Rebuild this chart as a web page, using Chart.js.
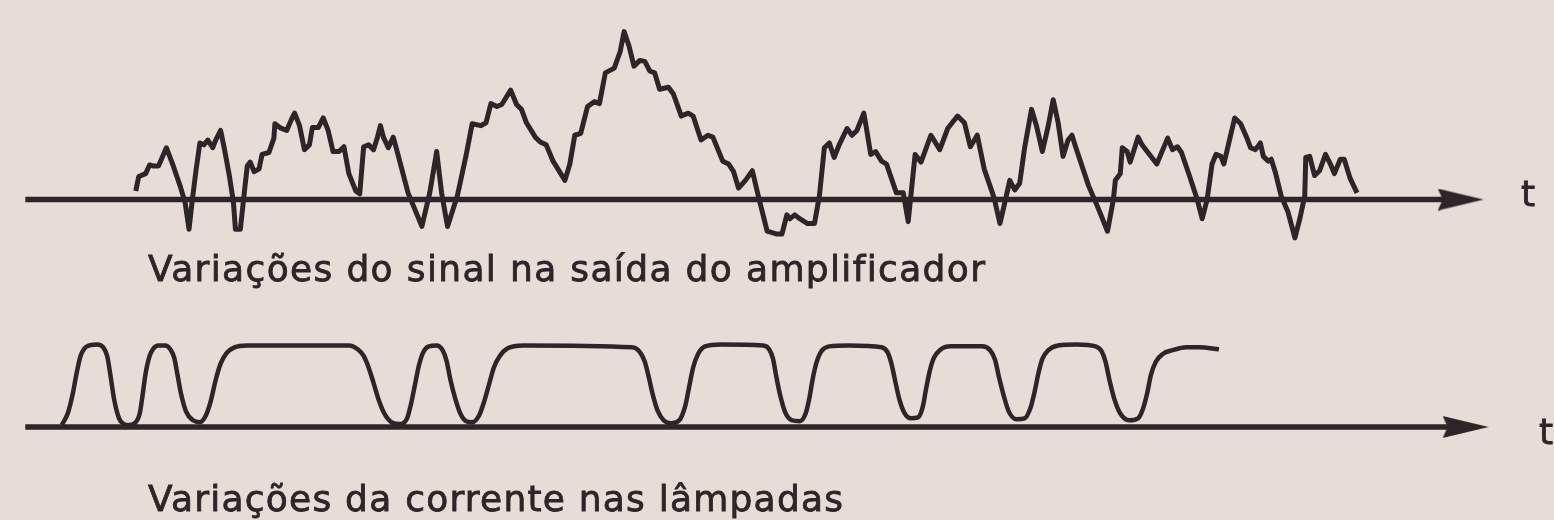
<!DOCTYPE html>
<html>
<head>
<meta charset="utf-8">
<script src="https://cdn.jsdelivr.net/npm/chart.js@4.4.1/dist/chart.umd.min.js"></script>
<style>
  html, body { margin: 0; padding: 0; background: #e8ddd6; }
  #wrap { position: relative; width: 1554px; height: 520px; overflow: hidden; background: #e8ddd6; }
  #plot { position: absolute; left: 0; top: 0; }
  .cap {
    position: absolute; white-space: nowrap;
    font-family: "DejaVu Sans", sans-serif; font-size: 36px; line-height: 36px;
    color: #2d2528; -webkit-text-stroke: 0.8px #2d2528;
  }
</style>
</head>
<body>
<div id="wrap">
  <canvas id="plot" width="1554" height="520"></canvas>
  <div class="cap" id="capSig" style="left:148px; top:251px;"></div>
  <div class="cap" id="capCur" style="left:148px; top:481px;"></div>
  <div class="cap" style="left:1521px; top:176px;">t</div>
  <div class="cap" style="left:1539px; top:414px;">t</div>
</div>
<script>
// amplifier output (time in tenths of a division, amplitude in arbitrary units)
var sigT = [12.7,13.0,13.7,14.1,14.5,15.0,15.3,15.8,16.5,17.2,17.7,18.1,18.4,18.8,19.2,19.6,20.0,20.5,20.8,21.3,
  21.7,22.2,22.6,22.8,23.3,23.7,24.0,24.3,24.7,25.2,25.5,26.2,26.7,26.8,27.3,28.0,28.5,28.8,29.3,29.8,
  30.3,30.6,31.2,31.7,32.2,32.7,33.3,33.8,34.3,35.0,35.4,35.8,36.3,36.8,37.2,37.5,37.8,38.3,38.8,39.2,
  40.3,41.7,42.5,43.2,43.7,44.3,45.3,46.2,46.8,47.7,48.2,48.7,49.3,49.8,50.7,51.3,51.8,52.3,53.2,53.7,
  54.3,55.0,56.2,56.7,57.2,57.8,58.5,59.2,59.7,60.3,61.2,61.8,62.2,62.7,63.2,63.8,64.3,64.8,65.3,65.8,
  66.7,67.2,68.0,68.7,69.2,70.0,70.7,71.2,72.2,72.8,73.3,73.8,74.5,75.2,75.8,76.7,77.7,78.2,78.7,79.0,
  79.5,80.0,80.8,81.5,82.0,82.5,83.0,83.5,84.0,84.8,85.3,85.8,86.5,86.8,87.2,87.7,88.3,88.8,89.8,90.5,
  91.0,91.7,92.3,93.3,94.2,95.0,96.0,96.7,97.3,98.0,98.7,99.7,100.3,100.8,101.3,101.8,102.3,102.8,103.5,104.0,
  104.6,105.2,105.7,106.2,106.7,107.2,107.6,108.0,109.3,110.3,111.2,111.8,112.0,112.5,112.7,113.2,113.5,114.3,114.7,116.2,
  117.3,117.8,118.3,118.7,119.5,120.3,120.8,121.3,121.8,122.2,122.7,123.0,123.5,124.1,124.7,125.3,125.7,126.2,126.7,127.0,
  127.5,127.8,128.2,128.8,129.5,130.2,130.7,131.2,131.3,131.7,132.2,132.7,133.3,133.8,134.2,134.8,135.2,135.8,136.5];
var sigV = [0.9,2.4,2.7,3.6,3.5,3.5,4.2,5.4,3.5,1.4,-0.3,-3.1,-0.3,3.0,5.9,5.7,6.2,5.4,6.2,7.2,
  5.2,2.4,-0.3,-3.1,-3.1,0.7,3.5,3.9,2.9,3.2,4.7,4.9,6.4,7.9,7.5,7.2,8.4,9.0,7.7,5.2,
  5.7,7.5,7.5,8.5,7.2,5.0,5.0,5.5,2.7,0.9,0.6,5.5,5.7,5.2,6.5,7.7,6.5,5.4,6.5,5.0,
  0.7,-2.8,0.7,5.0,0.7,-2.8,0.4,4.7,7.9,7.7,8.0,10.0,9.7,9.9,11.4,9.9,9.4,8.0,6.5,6.0,
  5.7,4.0,2.0,3.7,6.7,6.9,9.7,10.2,10.0,13.2,13.7,15.4,17.5,16.0,13.9,14.5,14.4,13.4,13.2,11.5,
  11.7,11.0,8.7,9.0,8.7,6.2,6.7,6.5,4.0,3.7,2.9,1.2,2.0,3.0,0.4,-3.3,-3.6,-3.6,-1.6,-2.0,
  -1.6,-2.0,-2.5,-2.5,0.4,5.4,5.9,4.4,5.7,7.4,6.7,7.2,9.0,7.2,4.7,5.0,4.0,3.7,0.7,0.7,
  -2.3,4.7,3.9,6.7,5.2,7.4,8.7,8.0,5.5,6.7,3.2,0.2,-2.5,-0.3,2.0,1.0,1.7,5.4,9.4,7.7,
  5.0,7.7,10.4,8.0,4.5,6.2,6.7,5.4,1.4,-1.0,-3.3,0.0,2.0,2.7,5.4,5.0,3.9,6.5,5.7,3.7,
  6.4,5.2,5.5,4.9,2.5,0.0,-2.0,0.0,3.7,4.7,4.5,3.7,5.9,8.5,7.9,6.5,5.4,5.2,5.9,4.5,
  4.0,4.2,2.9,0.4,-1.3,-4.0,-2.0,0.4,4.4,4.5,2.5,3.0,4.7,3.7,2.7,4.2,4.2,2.2,0.7];

// lamp current, same time base
var curT = [5.2,5.8,6.3,6.7,7.1,7.5,8.0,8.8,9.4,9.8,10.1,10.5,11.0,11.5,12.0,
  12.6,13.1,13.4,13.7,14.1,14.5,15.0,15.7,16.2,16.6,16.9,17.3,17.8,18.5,19.2,
  19.8,20.3,20.8,21.3,21.9,22.7,24.0,34.3,35.2,35.8,36.3,36.8,37.3,37.9,38.6,39.5,
  40.2,40.6,41.0,41.4,41.8,42.4,43.2,43.8,44.2,44.6,45.1,45.6,46.2,46.8,
  47.5,48.0,48.5,49.0,49.6,50.4,52.0,63.0,63.8,64.3,64.7,65.1,65.6,66.2,67.0,
  67.8,68.4,68.8,69.2,69.7,70.4,72.0,76.3,76.9,77.3,77.6,78.0,78.5,79.2,80.0,
  80.6,81.0,81.3,81.7,82.2,83.0,85.0,88.3,88.9,89.3,89.7,90.1,90.6,91.3,92.0,
  92.5,92.8,93.2,93.6,94.2,95.3,98.5,99.3,99.8,100.2,100.7,101.2,102.0,102.8,
  103.4,103.8,104.2,104.6,105.2,106.2,108.1,110.0,110.6,111.0,111.4,111.9,112.5,113.4,114.3,
  114.8,115.2,115.6,116.1,116.8,117.8,119.2,120.5,122.5];
var curV = [0.2,1.4,3.4,5.6,7.4,8.2,8.5,8.6,8.3,7.4,5.6,2.9,0.9,0.3,0.2,
  0.4,1.4,3.4,5.6,7.4,8.2,8.5,8.5,8.1,7.2,5.6,3.4,1.6,0.7,0.5,
  1.2,2.7,4.9,6.6,7.7,8.3,8.5,8.5,8.1,7.4,6.2,4.6,2.9,1.4,0.5,0.3,
  0.9,2.4,4.4,6.4,7.7,8.4,8.5,8.0,6.9,4.9,2.9,1.4,0.6,0.5,
  1.2,2.6,4.4,6.2,7.4,8.2,8.5,8.3,7.8,6.8,5.2,3.4,1.7,0.7,0.4,
  0.7,2.2,4.2,6.2,7.6,8.4,8.6,8.5,8.1,7.1,5.4,3.4,1.6,0.7,0.6,
  1.4,3.1,4.9,6.7,7.9,8.4,8.5,8.3,7.8,6.6,4.7,2.9,1.5,0.9,1.0,
  2.2,3.9,5.9,7.2,8.0,8.4,8.4,8.0,7.0,5.2,3.2,1.6,0.8,0.9,
  2.0,3.6,5.6,7.1,8.0,8.5,8.6,8.4,7.9,6.8,4.9,2.9,1.4,0.7,0.9,
  1.9,3.4,5.4,6.8,7.6,8.0,8.3,8.3,8.1];

// time axes: start and arrow position
var sigAxisT = [1.5, 147.0];
var curAxisT = [1.5, 147.5];

var capSigText = 'Variações do sinal na saída do amplificador';
var capCurText = 'Variações da corrente nas lâmpadas';

var ink = '#2d2528';

function pts(t, v) {
  var out = [];
  for (var i = 0; i < t.length; i++) out.push({x: t[i], y: v[i]});
  return out;
}

// arrowhead used as point style at the end of each axis
var arrow = document.createElement('canvas');
arrow.width = 46; arrow.height = 22;
var a = arrow.getContext('2d');
a.fillStyle = ink;
a.beginPath();
a.moveTo(0, 0); a.lineTo(46, 11); a.lineTo(0, 22); a.lineTo(5, 11);
a.closePath(); a.fill();

var axisStyle = {
  borderColor: ink, borderWidth: 5.5, pointRadius: [0, 5],
  pointStyle: ['circle', arrow], pointBackgroundColor: ink, tension: 0
};

var ctx = document.getElementById('plot').getContext('2d');
var chart = new Chart(ctx, {
  type: 'line',
  data: {
    datasets: [
      Object.assign({ label: 'eixo sinal', yAxisID: 'ySig',
        data: [{x: sigAxisT[0], y: 0}, {x: sigAxisT[1], y: 0}] }, axisStyle),
      Object.assign({ label: 'eixo corrente', yAxisID: 'yCur',
        data: [{x: curAxisT[0], y: 0}, {x: curAxisT[1], y: 0}] }, axisStyle),
      { label: 'sinal', yAxisID: 'ySig', data: pts(sigT, sigV),
        borderColor: ink, borderWidth: 5, borderJoinStyle: 'round', pointRadius: 0, tension: 0 },
      { label: 'corrente', yAxisID: 'yCur', data: pts(curT, curV),
        borderColor: ink, borderWidth: 4.5, pointRadius: 0, cubicInterpolationMode: 'monotone' }
    ]
  },
  options: {
    responsive: false,
    animation: false,
    layout: { padding: 0 },
    plugins: { legend: { display: false }, tooltip: { enabled: false } },
    scales: {
      x: { type: 'linear', min: 0, max: 155.4, display: false },
      ySig: { type: 'linear', min: -32.3, max: 19.7, display: false },
      yCur: { type: 'linear', min: -8.6, max: 43.4, display: false }
    }
  }
});

// captions: spread the letters to the printed widths
var meter = document.createElement('canvas').getContext('2d');
meter.font = '36px "DejaVu Sans"';
function fit(el, text, width) {
  el.textContent = text;
  var w = meter.measureText(text).width;
  el.style.letterSpacing = ((width - w) / (Array.from(text).length - 1)) + 'px';
}
fit(document.getElementById('capSig'), capSigText, 837);
fit(document.getElementById('capCur'), capCurText, 695);
</script>
</body>
</html>
